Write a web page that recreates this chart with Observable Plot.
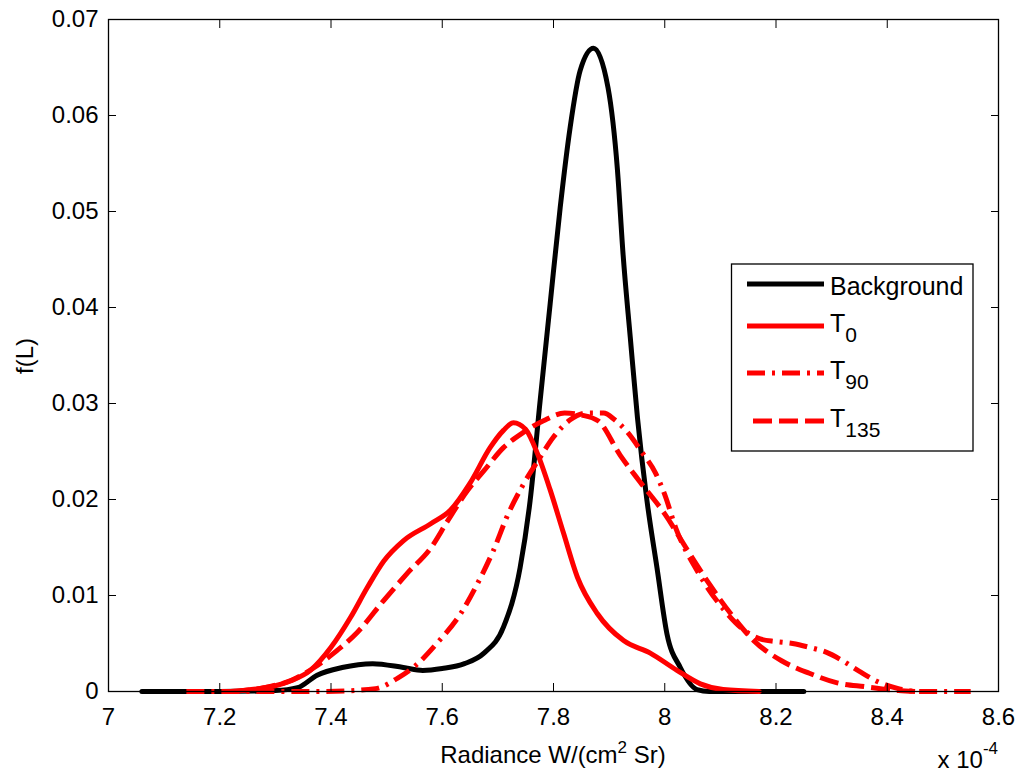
<!DOCTYPE html>
<html>
<head>
<meta charset="utf-8">
<script src="https://cdn.jsdelivr.net/npm/d3@7"></script>
<script src="https://cdn.jsdelivr.net/npm/@observablehq/plot@0.6"></script>
<style>
  html, body { margin: 0; padding: 0; background: #fff; }
  #chart { width: 1021px; height: 772px; }
  svg { display: block; }
</style>
</head>
<body>
<div id="chart"></div>
<script>
// Radiance in units of 1e-4 W/(cm^2 Sr); density f(L)
const bgX = [7.06, 7.20, 7.30, 7.34, 7.375, 7.42, 7.475, 7.53, 7.565, 7.60, 7.64, 7.675, 7.71, 7.74, 7.758, 7.776, 7.794, 7.812, 7.83, 7.848, 7.872, 7.898, 7.915, 7.925, 7.938, 7.951, 7.968, 7.986, 8.004, 8.028, 8.058, 8.08, 8.25];
const bgY = [0, 0, 0.0001, 0.0004, 0.0017, 0.0025, 0.0029, 0.0025, 0.0022, 0.0024, 0.0029, 0.0040, 0.0067, 0.0129, 0.0199, 0.0303, 0.0404, 0.0504, 0.0588, 0.0647, 0.0670, 0.0629, 0.0543, 0.0456, 0.0369, 0.0285, 0.0199, 0.0129, 0.0060, 0.0025, 0.0002, 0, 0];

const t0X = [7.22, 7.27, 7.30, 7.327, 7.363, 7.40, 7.435, 7.465, 7.495, 7.53, 7.58, 7.615, 7.65, 7.686, 7.71, 7.728, 7.75, 7.771, 7.794, 7.818, 7.843, 7.879, 7.926, 7.974, 8.022, 8.064, 8.105, 8.17];
const t0Y = [0, 0.0003, 0.0006, 0.0011, 0.0022, 0.0046, 0.0077, 0.0108, 0.0136, 0.0157, 0.0175, 0.0189, 0.0217, 0.0254, 0.0272, 0.0280, 0.0273, 0.0248, 0.0210, 0.0165, 0.0119, 0.0081, 0.0053, 0.0040, 0.0022, 0.0008, 0.0002, 0];

const t90X = [7.14, 7.39, 7.48, 7.52, 7.55, 7.59, 7.633, 7.663, 7.692, 7.717, 7.745, 7.775, 7.80, 7.83, 7.86, 7.89, 7.91, 7.933, 7.958, 7.983, 8.00, 8.02, 8.058, 8.108, 8.14, 8.17, 8.20, 8.23, 8.26, 8.29, 8.32, 8.35, 8.38, 8.42, 8.46, 8.55];
const t90Y = [0, 0, 0.0003, 0.0014, 0.0026, 0.0050, 0.0081, 0.0112, 0.0147, 0.0183, 0.0215, 0.0243, 0.0265, 0.0283, 0.0290, 0.0290, 0.0283, 0.0270, 0.0250, 0.0228, 0.0205, 0.0170, 0.0126, 0.0084, 0.0065, 0.0055, 0.0052, 0.0050, 0.0046, 0.0041, 0.0032, 0.0021, 0.0011, 0.0003, 0, 0];

const t135X = [7.22, 7.28, 7.33, 7.37, 7.405, 7.448, 7.495, 7.537, 7.58, 7.61, 7.645, 7.675, 7.71, 7.746, 7.782, 7.82, 7.85, 7.88, 7.92, 7.956, 8.00, 8.04, 8.08, 8.12, 8.16, 8.21, 8.26, 8.31, 8.36, 8.42, 8.45];
const t135Y = [0, 0.0004, 0.0012, 0.0025, 0.0040, 0.0062, 0.0095, 0.0123, 0.0150, 0.0178, 0.0209, 0.0230, 0.0254, 0.0270, 0.0282, 0.0290, 0.0288, 0.0282, 0.0246, 0.0218, 0.0185, 0.0148, 0.0112, 0.0080, 0.0053, 0.0032, 0.0019, 0.0009, 0.0005, 0.0001, 0];

const xTicks = [7, 7.2, 7.4, 7.6, 7.8, 8, 8.2, 8.4, 8.6];
const yTicks = [0, 0.01, 0.02, 0.03, 0.04, 0.05, 0.06, 0.07];

const seriesNames = ["Background", "T0", "T90", "T135"];
const seriesColors = ["#000000", "#ff0000", "#ff0000", "#ff0000"];
const seriesDash = [null, null, "18,7,3,7", "19,7"];
const seriesX = [bgX, t0X, t90X, t135X];
const seriesY = [bgY, t0Y, t90Y, t135Y];

const rows = seriesNames.flatMap((name, k) =>
  seriesX[k].map((x, i) => ({series: name, x, y: seriesY[k][i]}))
);

const font = "'Liberation Sans', Arial, Helvetica, sans-serif";

const lineMarks = seriesNames.map((name, k) =>
  Plot.line(rows.filter(d => d.series === name), {
    x: "x", y: "y",
    stroke: seriesColors[k],
    strokeWidth: 5,
    strokeDasharray: seriesDash[k],
    strokeLinecap: seriesDash[k] ? "butt" : "round",
    curve: "monotone-x"
  })
);

const chart = Plot.plot({
  width: 1021,
  height: 772,
  marginLeft: 108,
  marginRight: 23,
  marginTop: 19,
  marginBottom: 81,
  style: {fontFamily: font, fontSize: "24px", color: "#000", background: "#fff"},
  x: {domain: [7, 8.6], label: null},
  y: {domain: [0, 0.07], label: null},
  marks: [
    ...lineMarks,
    Plot.frame({stroke: "#000", strokeWidth: 1.3}),
    Plot.axisX(xTicks, {anchor: "bottom", tickSize: -8, tickPadding: 24, fontSize: 24, tickFormat: d => String(d), label: null}),
    Plot.axisX(xTicks, {anchor: "top", tickSize: -8, tickFormat: () => "", label: null}),
    Plot.axisY(yTicks, {anchor: "left", tickSize: -8, tickPadding: 18, fontSize: 24, tickFormat: d => String(d), label: null}),
    Plot.axisY(yTicks, {anchor: "right", tickSize: -8, tickFormat: () => "", label: null})
  ]
});

document.getElementById("chart").appendChild(chart);

const svg = d3.select(chart);

// axis titles
const xt = svg.append("text")
  .attr("x", 553).attr("y", 763)
  .attr("text-anchor", "middle")
  .style("font-family", font).style("font-size", "24px").attr("fill", "#000");
xt.append("tspan").text("Radiance W/(cm");
xt.append("tspan").attr("dy", -10).style("font-size", "17px").text("2");
xt.append("tspan").attr("dy", 10).text(" Sr)");

const ex = svg.append("text")
  .attr("x", 998).attr("y", 768)
  .attr("text-anchor", "end")
  .style("font-family", font).style("font-size", "24px").attr("fill", "#000");
ex.append("tspan").text("x 10");
ex.append("tspan").attr("dy", -14).style("font-size", "17px").text("-4");

svg.append("text")
  .attr("transform", "translate(33,356) rotate(-90)")
  .attr("text-anchor", "middle")
  .style("font-family", font).style("font-size", "24px").attr("fill", "#000")
  .text("f(L)");

// legend box
const lg = svg.append("g");
lg.append("rect")
  .attr("x", 731.5).attr("y", 264).attr("width", 241.5).attr("height", 187)
  .attr("fill", "#fff").attr("stroke", "#000").attr("stroke-width", 1.3);

const legendRows = [
  {y: 284, main: "Background", sub: null, x1: 747},
  {y: 326, main: "T", sub: "0", x1: 747},
  {y: 373, main: "T", sub: "90", x1: 747},
  {y: 421, main: "T", sub: "135", x1: 753}
];
legendRows.forEach((r, k) => {
  lg.append("line")
    .attr("x1", r.x1).attr("x2", 824).attr("y1", r.y).attr("y2", r.y)
    .attr("stroke", seriesColors[k]).attr("stroke-width", 5)
    .attr("stroke-dasharray", seriesDash[k])
    .attr("stroke-linecap", "butt");
  const t = lg.append("text")
    .attr("x", 830).attr("y", r.sub ? r.y + 6 : r.y + 11)
    .attr("text-anchor", "start")
    .style("font-family", font).style("font-size", "25px").attr("fill", "#000");
  t.append("tspan").text(r.main);
  if (r.sub) t.append("tspan").attr("dy", 10).style("font-size", "21px").text(r.sub);
});
</script>
</body>
</html>
